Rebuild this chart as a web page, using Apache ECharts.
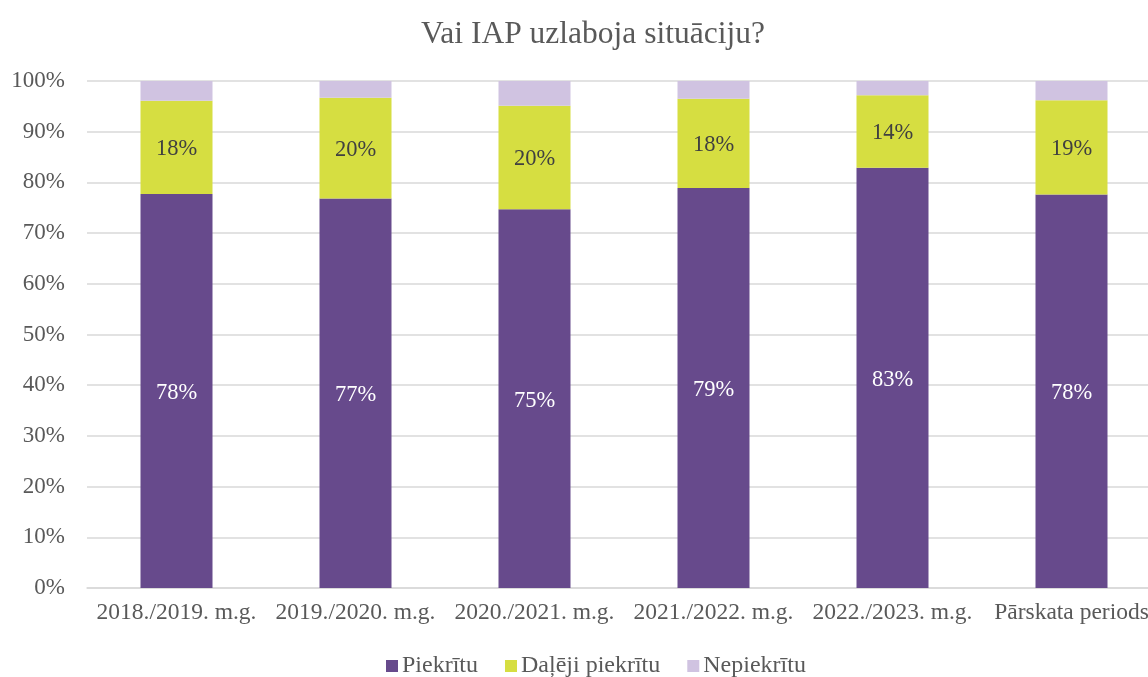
<!DOCTYPE html>
<html>
<head>
<meta charset="utf-8">
<title>Vai IAP uzlaboja situāciju?</title>
<script src="https://cdn.jsdelivr.net/npm/echarts@6/dist/echarts.min.js"></script>
<style>
  html, body { margin: 0; padding: 0; background: #fff; }
  #chart { width: 1148px; height: 677px; }
</style>
</head>
<body>
<div id="chart"></div>
<script>
// dati
const categories = ['2018./2019. m.g.', '2019./2020. m.g.', '2020./2021. m.g.', '2021./2022. m.g.', '2022./2023. m.g.', 'Pārskata periods'];
const piekritu = [77.7, 76.8, 74.7, 78.9, 82.9, 77.6];
const daleji = [18.4, 19.9, 20.4, 17.6, 14.3, 18.6];
const nepiekritu = [3.9, 3.3, 4.9, 3.5, 2.8, 3.8];
const yTicks = [0, 10, 20, 30, 40, 50, 60, 70, 80, 90, 100];

const font = '"Liberation Serif", "Times New Roman", serif';
const textGrey = '#595959';

const chart = echarts.init(document.getElementById('chart'));

chart.setOption({
  animation: false,
  color: ['#674a8c', '#d6de41', '#d0c3e1'],
  textStyle: { fontFamily: font },
  title: {
    text: 'Vai IAP uzlaboja situāciju?',
    left: 588,
    top: 14,
    textAlign: 'center',
    textStyle: { fontFamily: font, fontSize: 31.5, fontWeight: 'normal', color: textGrey },
  },
  legend: {
    data: ['Piekrītu', 'Daļēji piekrītu', 'Nepiekrītu'],
    left: 386,
    top: 654,
    padding: 0,
    itemWidth: 12,
    itemHeight: 12,
    itemGap: 27,
    icon: 'rect',
    textStyle: { fontFamily: font, fontSize: 24, color: textGrey, padding: [0, 0, 0, -1] },
  },
  // plot area runs past the right edge, like the cropped original
  grid: {
    left: 87,
    width: 1074,
    top: 81,
    bottom: 89,
    containLabel: false,
    outerBoundsMode: 'none',
  },
  xAxis: {
    type: 'category',
    data: categories,
    axisTick: { show: false },
    axisLine: { lineStyle: { color: '#d9d9d9', width: 1.5 } },
    axisLabel: { fontFamily: font, fontSize: 23.5, color: textGrey, margin: 13, interval: 0 },
  },
  yAxis: {
    type: 'value',
    min: yTicks[0],
    max: yTicks[yTicks.length - 1],
    interval: yTicks[1] - yTicks[0],
    axisLine: { show: false },
    axisTick: { show: false },
    splitLine: { lineStyle: { color: '#d9d9d9', width: 1.5 } },
    axisLabel: {
      fontFamily: font,
      fontSize: 23,
      color: textGrey,
      margin: 22,
      formatter: (v) => v + '%',
    },
  },
  series: [
    {
      name: 'Piekrītu',
      type: 'bar',
      stack: 'kopa',
      barWidth: 72,
      data: piekritu,
      label: {
        show: true,
        position: 'inside',
        offset: [0, 2],
        fontFamily: font,
        fontSize: 22.5,
        color: '#ffffff',
        formatter: (p) => Math.round(p.value) + '%',
      },
    },
    {
      name: 'Daļēji piekrītu',
      type: 'bar',
      stack: 'kopa',
      barWidth: 72,
      data: daleji,
      label: {
        show: true,
        position: 'inside',
        offset: [0, 2],
        fontFamily: font,
        fontSize: 22.5,
        color: '#404040',
        formatter: (p) => Math.round(p.value) + '%',
      },
    },
    {
      name: 'Nepiekrītu',
      type: 'bar',
      stack: 'kopa',
      barWidth: 72,
      data: nepiekritu,
      label: { show: false },
    },
  ],
});
</script>
</body>
</html>
